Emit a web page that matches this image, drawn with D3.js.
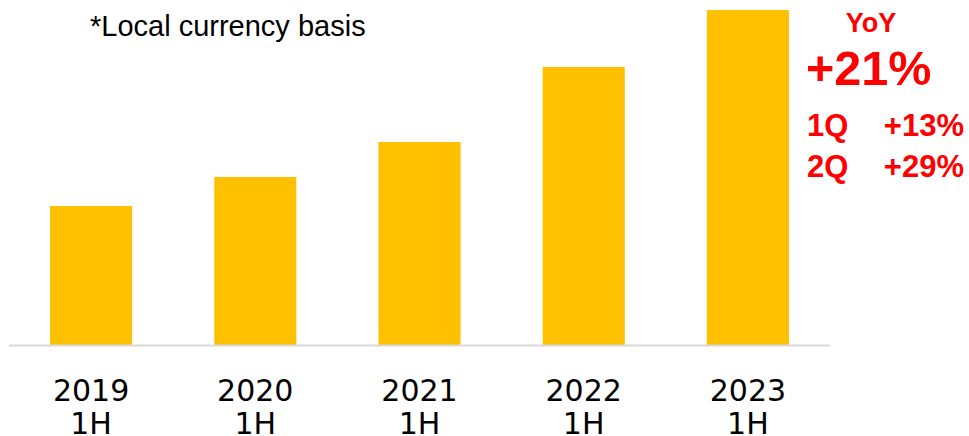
<!DOCTYPE html>
<html>
<head>
<meta charset="utf-8">
<script src="https://cdn.jsdelivr.net/npm/d3@7/dist/d3.min.js"></script>
<style>
  html, body { margin: 0; padding: 0; background: #fff; }
  svg { display: block; }
</style>
</head>
<body>
<svg id="chart" width="969" height="436"></svg>
<script>
// Half-year sales, local currency basis (relative units)
const years = ["2019", "2020", "2021", "2022", "2023"];
const period = ["1H", "1H", "1H", "1H", "1H"];
const sales = [139, 168, 203, 278, 335];

const noteText = "*Local currency basis";
const yoyTitle = "YoY";
const yoyTotal = "+21%";
const quarterLabels = ["1Q", "2Q"];
const quarterGrowth = ["+13%", "+29%"];

const svg = d3.select("#chart");

const x = d3.scaleBand()
  .domain(years)
  .range([9, 830])
  .paddingInner(0.5)
  .paddingOuter(0.25);

const y = d3.scaleLinear()
  .domain([0, 335])
  .range([345, 10]);

// bars
svg.append("g")
  .selectAll("rect")
  .data(years)
  .join("rect")
  .attr("x", d => x(d))
  .attr("width", x.bandwidth())
  .attr("y", (d, i) => y(sales[i]))
  .attr("height", (d, i) => y(0) - y(sales[i]))
  .attr("fill", "#FFC000");

// baseline
svg.append("line")
  .attr("x1", 9).attr("x2", 830)
  .attr("y1", y(0) + 0.5).attr("y2", y(0) + 0.5)
  .attr("stroke", "#D9D9D9")
  .attr("stroke-width", 2);

// category labels (two lines)
const cat = svg.append("g")
  .attr("font-family", "DejaVu Sans, Verdana, sans-serif")
  .attr("font-size", 30)
  .attr("fill", "#000")
  .attr("text-anchor", "middle");

cat.selectAll("text.yr")
  .data(years)
  .join("text")
  .attr("class", "yr")
  .attr("x", d => x(d) + x.bandwidth() / 2)
  .attr("y", 401)
  .text(d => d);

cat.selectAll("text.per")
  .data(years)
  .join("text")
  .attr("class", "per")
  .attr("x", d => x(d) + x.bandwidth() / 2)
  .attr("y", 434)
  .text((d, i) => period[i]);

// note
svg.append("text")
  .attr("x", 90).attr("y", 36)
  .attr("font-family", "Liberation Sans, Arial, sans-serif")
  .attr("font-size", 29)
  .attr("fill", "#000")
  .text(noteText);

// YoY annotation
const red = "#FF0000";
const ann = svg.append("g")
  .attr("font-family", "Liberation Sans, Arial, sans-serif")
  .attr("font-weight", "bold")
  .attr("fill", red);

ann.append("text")
  .attr("x", 871).attr("y", 32)
  .attr("text-anchor", "middle")
  .attr("font-size", 27)
  .text(yoyTitle);

ann.append("text")
  .attr("x", 806).attr("y", 85)
  .attr("font-size", 48.5)
  .text(yoyTotal);

const qBase = [136, 177];
ann.selectAll("text.ql")
  .data(quarterLabels)
  .join("text")
  .attr("class", "ql")
  .attr("x", 807)
  .attr("y", (d, i) => qBase[i])
  .attr("font-size", 31)
  .text(d => d);

ann.selectAll("text.qv")
  .data(quarterGrowth)
  .join("text")
  .attr("class", "qv")
  .attr("x", 964)
  .attr("y", (d, i) => qBase[i])
  .attr("text-anchor", "end")
  .attr("font-size", 31)
  .text(d => d);
</script>
</body>
</html>
